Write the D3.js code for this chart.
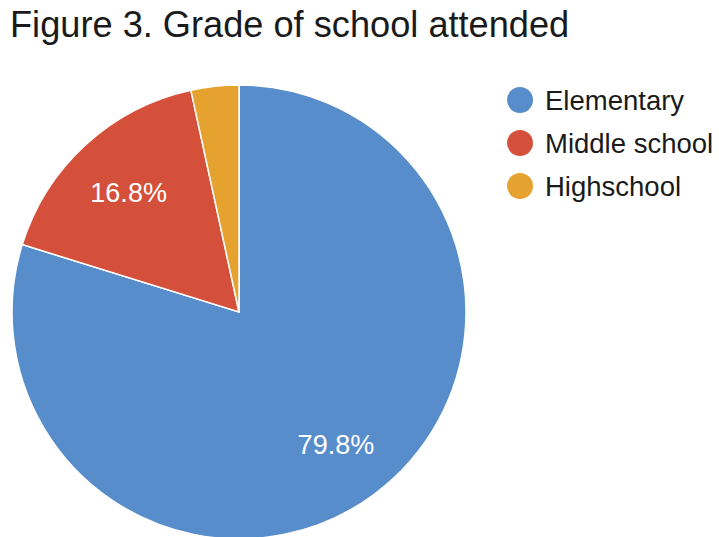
<!DOCTYPE html>
<html>
<head>
<meta charset="utf-8">
<script src="https://cdn.jsdelivr.net/npm/d3@7"></script>
<style>
  body { margin: 0; background: #fff; }
  svg { display: block; font-family: "Liberation Sans", Arial, sans-serif; }
</style>
</head>
<body>
<div id="chart"></div>
<script>
//Data
var categories = ["Elementary", "Middle school", "Highschool"];
var values = [79.8, 16.8, 3.4];
var colors = ["#588dcc", "#d5503a", "#e6a22e"];
var title = "Figure 3. Grade of school attended";

var width = 719, height = 537;
var cx = 239, cy = 312, radius = 227;

var svg = d3.select("#chart")
    .append("svg")
    .attr("width", width)
    .attr("height", height);

//Title
svg.append("text")
    .attr("x", 10)
    .attr("y", 37)
    .style("font-size", "36.2px")
    .style("fill", "#1a1a1a")
    .text(title);

var pie = d3.pie().sort(null).value(function (d) { return d; });
var arc = d3.arc().innerRadius(0).outerRadius(radius);
var arcs = pie(values);

var g = svg.append("g")
    .attr("transform", "translate(" + cx + "," + cy + ")");

g.selectAll("path")
    .data(arcs)
    .enter()
    .append("path")
    .attr("d", arc)
    .attr("fill", function (d, i) { return colors[i]; })
    .attr("stroke", "#fff")
    .attr("stroke-width", 1.5);

//Slice labels (only the big ones, like the original)
var labelArc = d3.arc().innerRadius(radius * 0.72).outerRadius(radius * 0.72);
g.selectAll(".sliceLabel")
    .data(arcs.filter(function (d) { return d.value > 10; }))
    .enter()
    .append("text")
    .attr("class", "sliceLabel")
    .attr("transform", function (d) { return "translate(" + labelArc.centroid(d) + ")"; })
    .attr("text-anchor", "middle")
    .attr("dy", "0.4em")
    .style("fill", "#fff")
    .style("font-size", "27px")
    .text(function (d) { return d.value.toFixed(1) + "%"; });

//Legend
var leg = svg.append("g").attr("transform", "translate(520,100)");
leg.selectAll("circle")
    .data(categories)
    .enter()
    .append("circle")
    .attr("cx", 0)
    .attr("cy", function (d, i) { return i * 43; })
    .attr("r", 13)
    .style("fill", function (d, i) { return colors[i]; });
leg.selectAll("text")
    .data(categories)
    .enter()
    .append("text")
    .attr("x", 25)
    .attr("y", function (d, i) { return i * 43; })
    .attr("dy", "0.35em")
    .style("font-size", "27.5px")
    .style("fill", "#1a1a1a")
    .text(function (d) { return d; });
</script>
</body>
</html>
